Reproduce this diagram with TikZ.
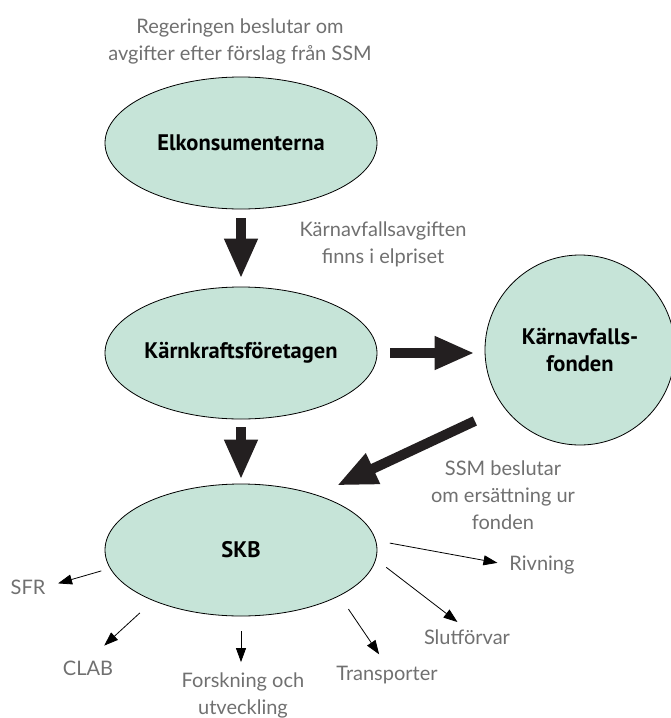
\documentclass[tikz,border=0pt]{standalone}
\usepackage{fontspec}
\setmainfont{Lato}
\newfontfamily\headfont{PT Sans}
\usepackage{tikz}
\usetikzlibrary{arrows.meta,positioning,shapes,calc}
\definecolor{fondgreen}{RGB}{198,228,216}
\definecolor{notegrey}{RGB}{112,112,112}
\definecolor{flowblack}{RGB}{35,31,32}

\begin{document}
\begin{tikzpicture}[
      x=1pt,y=-1pt,
      every node/.style={on grid,inner sep=0pt},
      actor/.style={draw,fill=fondgreen,ellipse,line width=0.8pt,minimum width=272pt,minimum height=132pt},
      fondbox/.style={draw,fill=fondgreen,circle,line width=0.8pt,minimum size=190pt},
      boldlabel/.style={font=\headfont\bfseries\fontsize{22.5}{27}\selectfont,align=center},
      note/.style={text=notegrey,font=\fontsize{20}{27}\selectfont,align=center},
      flow/.style={draw=flowblack,line width=10pt,-{Triangle[length=40pt,width=31pt]}},
      spend/.style={draw=black,line width=0.8pt,-{Triangle[length=14pt,width=10pt]}}
    ]
    \useasboundingbox (0,0) rectangle (670,718);

    % the actors
    \node[actor,label={[boldlabel]center:Elkonsumenterna}] (elk) at (241,143) {};
    \node[actor,below=210pt of elk,label={[boldlabel]center:Kärnkraftsföretagen}] (kk) {};
    \node[actor,below=197pt of kk,label={[boldlabel]center:SKB}] (skb) {};
    \node[fondbox,label={[boldlabel]center:{Kärnavfalls-\\fonden}}] (fond) at (580,350) {};

    % notes by the money flow
    \node[note] (gov) at (240,41) {Regeringen beslutar om\\avgifter efter förslag från SSM};
    \node[note] (fee) at (383,244) {Kärnavfallsavgiften\\finns i elpriset};
    \node[note] (ssm) at (503,495) {SSM beslutar\\om ersättning ur\\fonden};

    % what SKB pays for
    \node[note] (sfr) at (28,587) {SFR};
    \node[note] (clab) at (88,668) {CLAB};
    \node[note] (fou) at (243,695) {Forskning och\\utveckling};
    \node[note] (trans) at (387,675) {Transporter};
    \node[note] (slut) at (467,637) {Slutförvar};
    \node[note] (riv) at (542,565) {Rivning};

    % the thick arrows
    \draw[flow,shorten <=9pt,shorten >=8pt] (elk) -- (kk);
    \draw[flow,shorten <=8pt,shorten >=4pt] (kk) -- (skb);
    \draw[flow,shorten <=13pt,shorten >=10pt] (kk.east) -- (kk.east -| fond.west);
    \draw[flow,shorten <=32pt,shorten >=22pt] (fond.217) -- (skb.36);

    % the thin arrows
    \draw[spend,shorten <=9pt,shorten >=13pt] (skb.188) -- (sfr.east);
    \draw[spend,shorten <=18pt,shorten >=22pt] (skb.210) -- (clab.north);
    \draw[spend,shorten <=15pt,shorten >=10pt] (skb.south) -- (skb.south |- fou.north);
    \draw[spend,shorten <=16pt,shorten >=14pt] (skb.335) -- (trans.north);
    \draw[spend,shorten <=13pt,shorten >=12pt] (skb.356) -- (slut.north);
    \draw[spend,shorten <=14pt,shorten >=12pt] (skb.4) -- (riv.west);
\end{tikzpicture}
\end{document}
